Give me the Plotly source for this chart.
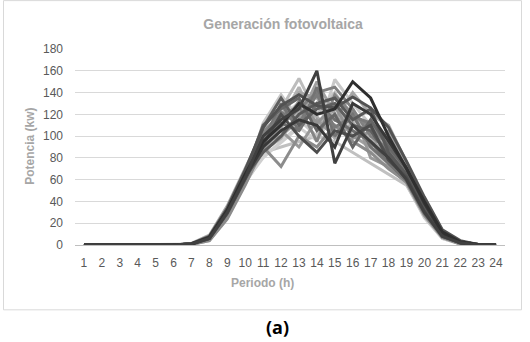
import plotly.graph_objects as go

hours = [str(h) for h in range(1, 25)]
y_ticks = [0, 20, 40, 60, 80, 100, 120, 140, 160, 180]

# Each series: hourly PV generation (kW) for hours 1..24
s01 = [0,0,0,0,0,0,1.0,6,30,62,100,115,125,160,75,110,95,80,60,30,8,2,0,0]
s02 = [0,0,0,0,0,0,0.8,7,32,65,95,110,130,120,125,150,135,100,70,40,12,3,0.5,0]
s03 = [0,0,0,0,0,0,1.2,8,34,68,100,125,153,120,140,115,105,90,72,38,10,2,0,0]
s04 = [0,0,0,0,0,0,1.0,6,28,60,112,138,115,100,152,130,110,95,68,35,9,3,0.5,0]
s05 = [0,0,0,0,0,0,0.5,4,24,55,90,72,100,90,110,95,85,70,58,28,7,1,0,0]
s06 = [0,0,0,0,0,0,1.5,9,36,70,105,120,140,135,115,140,120,110,76,42,13,3,0.5,0]
s07 = [0,0,0,0,0,0,0.8,6,30,63,85,100,120,130,135,115,125,85,65,33,9,2,0,0]
s08 = [0,0,0,0,0,0,1.0,7,31,64,95,130,105,145,100,120,90,75,60,30,8,2,0,0]
s09 = [0,0,0,0,0,0,0.6,5,26,58,80,95,110,125,130,105,100,85,66,36,10,2,0,0]
s10 = [0,0,0,0,0,0,1.1,7,33,66,110,125,135,105,120,90,115,90,70,37,11,3,0.5,0]
s11 = [0,0,0,0,0,0,0.7,5,27,59,88,105,90,115,100,125,80,72,57,27,7,1,0,0]
s12 = [0,0,0,0,0,0,1.0,6,30,62,98,115,145,110,125,110,95,100,74,40,12,3,0.5,0]
s13 = [0,0,0,0,0,0,0.9,6,29,61,92,120,100,85,105,100,110,78,62,31,8,2,0,0]
s14 = [0,0,0,0,0,0,1.2,8,33,67,102,110,125,140,145,125,100,88,69,36,10,2,0,0]
s15 = [0,0,0,0,0,0,0.5,4,25,56,85,90,95,100,95,85,75,65,55,26,6,1,0,0]
s16 = [0,0,0,0,0,0,1.0,7,32,65,108,135,110,125,130,110,105,82,64,32,9,2,0,0]
s17 = [0,0,0,0,0,0,0.8,6,29,60,95,100,115,150,120,100,90,105,75,41,12,3,0.5,0]
s18 = [0,0,0,0,0,0,1.0,7,31,63,90,105,115,110,90,130,120,95,71,38,11,2,0,0]
s19 = [0,0,0,0,0,0,0.9,6,30,62,100,120,130,115,110,95,85,80,63,32,9,2,0,0]
s20 = [0,0,0,0,0,0,1.0,6,30,61,97,112,105,130,115,105,95,75,59,29,8,2,0,0]
s21 = [0,0,0,0,0,0,0.9,7,31,64,104,118,128,95,138,120,108,92,67,34,10,2,0,0]
s22 = [0,0,0,0,0,0,0.7,5,27,58,86,98,122,118,98,112,96,84,61,30,8,2,0,0]
s23 = [0,0,0,0,0,0,1.1,8,34,69,108,128,138,128,126,136,126,108,77,44,14,4,0.5,0]
s24 = [0,0,0,0,0,0,0.6,5,26,57,82,94,108,96,122,102,88,74,56,25,6,1,0,0]
s25 = [0,0,0,0,0,0,1.0,6,30,62,99,122,112,138,108,118,112,96,70,37,11,3,0.5,0]
s26 = [0,0,0,0,0,0,0.8,6,29,60,93,108,132,112,128,98,104,86,64,33,9,2,0,0]

series = [s15, s09, s19, s03, s04, s12, s24, s22, s06, s17, s11, s05,
          s26, s14, s21, s20, s08, s25, s10, s16, s07, s23, s13, s18, s02, s01]
colors = ["#c0c0c0", "#d0d0d0", "#d8d8d8", "#bdbdbd", "#c8c8c8", "#b3b3b3",
          "#cfcfcf", "#ababab", "#a6a6a6", "#a0a0a0", "#999999", "#8c8c8c",
          "#939393", "#808080", "#858585", "#6e6e6e", "#737373", "#7a7a7a",
          "#666666", "#5f5f5f", "#595959", "#525252", "#4d4d4d", "#383838",
          "#2f2f2f", "#404040"]

fig = go.Figure()
for vals, col in zip(series, colors):
    fig.add_trace(go.Scatter(x=hours, y=vals, mode="lines",
                             line=dict(color=col, width=3),
                             showlegend=False, hoverinfo="skip"))

L, R, T, B = 75, 25, 49, 96.5
W, H = 530, 342
pw, ph = W - L - R, H - T - B

def px_x(x):
    return (x - L) / pw

def px_y(y):
    return (H - B - y) / ph

fig.update_layout(
    width=W, height=H,
    margin=dict(l=L, r=R, t=T, b=B),
    paper_bgcolor="white", plot_bgcolor="white",
    font=dict(family="Liberation Sans, Arial, sans-serif", color="#595959"),
    title=dict(text="<b>Generación fotovoltaica</b>", x=283 / W, y=1 - 24 / H,
               xanchor="center", yanchor="middle",
               font=dict(size=14, color="#a6a6a6")),
    xaxis=dict(type="category", range=[-0.5, 23.5], showgrid=False,
               tickfont=dict(size=12, color="#595959"), ticks="",
               showline=False, zeroline=False, ticklabelstandoff=9),
    yaxis=dict(range=[0, 180], tickvals=y_ticks, showgrid=True,
               gridcolor="#d9d9d9", gridwidth=1, zeroline=True,
               zerolinecolor="#bfbfbf", zerolinewidth=1,
               tickfont=dict(size=12, color="#595959"), ticks="",
               ticklabelstandoff=11),
    annotations=[
        dict(text="<b>Periodo (h)</b>", xref="paper", yref="paper",
             x=px_x(262), y=px_y(284), xanchor="center", yanchor="middle",
             showarrow=False, font=dict(size=12, color="#a6a6a6")),
        dict(text="<b>Potencia (kw)</b>", xref="paper", yref="paper",
             x=px_x(30), y=px_y(147), xanchor="center", yanchor="middle",
             textangle=-90, showarrow=False,
             font=dict(size=12, color="#a6a6a6")),
        dict(text="<b>(a)</b>", xref="paper", yref="paper",
             x=px_x(277), y=px_y(328), xanchor="center", yanchor="middle",
             showarrow=False,
             font=dict(size=18, color="#000000",
                       family="Open Sans, Liberation Sans, sans-serif")),
    ],
    shapes=[
        dict(type="rect", xref="paper", yref="paper",
             x0=px_x(3.5), x1=px_x(521.5), y0=px_y(310.5), y1=px_y(0.5),
             line=dict(color="#d9d9d9", width=1), fillcolor="rgba(0,0,0,0)",
             layer="below"),
    ],
)

fig.write_html("out.html")
